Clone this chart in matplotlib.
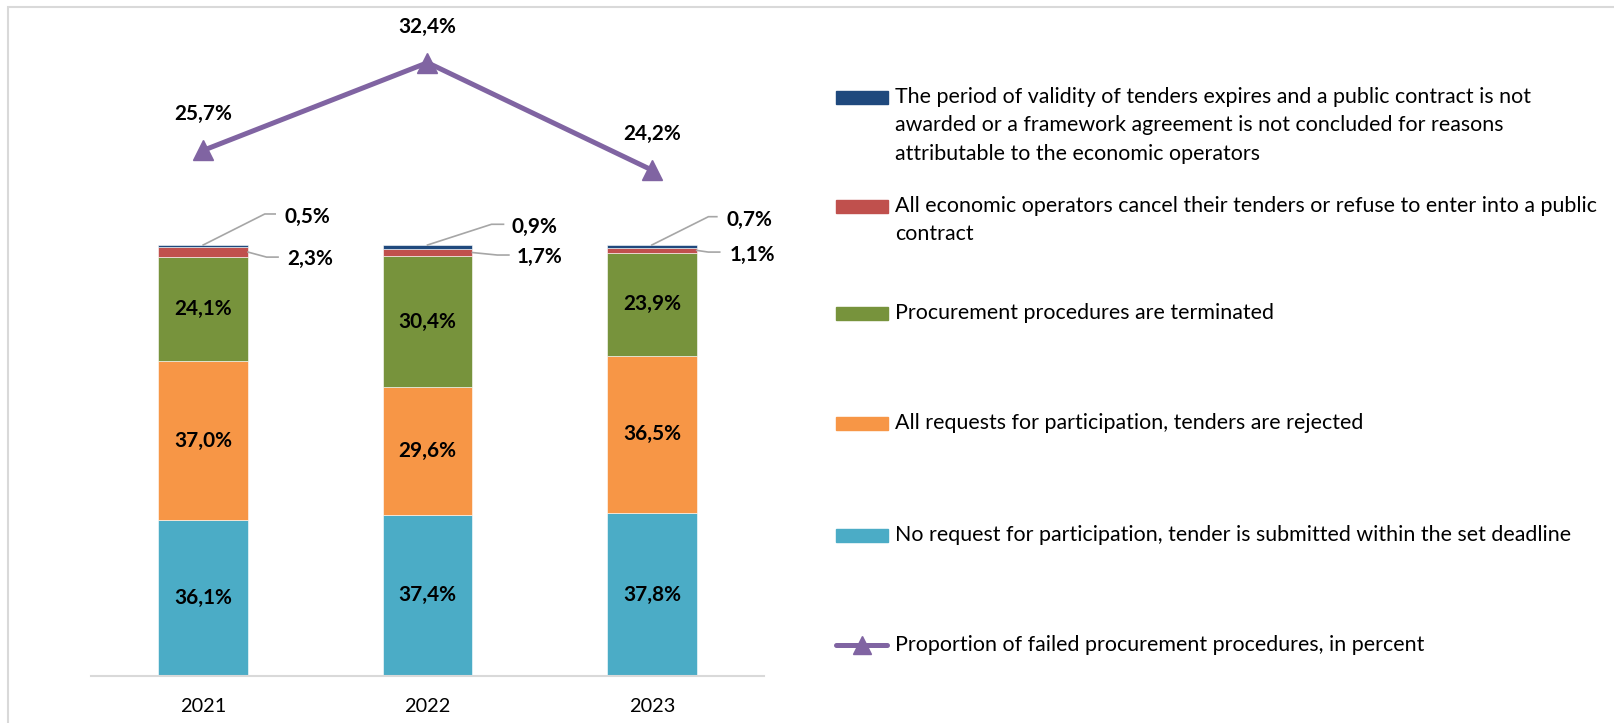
import matplotlib
matplotlib.use("Agg")
import matplotlib.pyplot as plt
from matplotlib.transforms import IdentityTransform
from matplotlib.patches import Rectangle
from matplotlib.lines import Line2D

# ---------------- data ----------------
years = ["2021", "2022", "2023"]
no_request = [36.1, 37.4, 37.8]
rejected = [37.0, 29.6, 36.5]
terminated = [24.1, 30.4, 23.9]
cancelled = [2.3, 1.7, 1.1]
expired = [0.5, 0.9, 0.7]
failed_share = [25.7, 32.4, 24.2]

legend_lines = [
    ["The period of validity of tenders expires and a public contract is not",
     "awarded or a framework agreement is not concluded for reasons",
     "attributable to the economic operators"],
    ["All economic operators cancel their tenders or refuse to enter into a public",
     "contract"],
    ["Procurement procedures are terminated"],
    ["All requests for participation, tenders are rejected"],
    ["No request for participation, tender is submitted within the set deadline"],
    ["Proportion of failed procurement procedures, in percent"],
]

# ---------------- style ----------------
C_BLUE = "#1F497D"
C_RED = "#C0504D"
C_GREEN = "#77933C"
C_ORANGE = "#F79646"
C_CYAN = "#4BACC6"
C_PURPLE = "#8064A2"
C_GRID = "#D9D9D9"
C_LEADER = "#A6A6A6"
FAMILY = ["Lato", "DejaVu Sans"]

W, H = 1615, 723
fig = plt.figure(figsize=(W / 100, H / 100), dpi=100)
renderer = fig.canvas.get_renderer()


def fit(text, target_w, weight="normal"):
    t = fig.text(0, 0, text, fontsize=20, fontweight=weight, family=FAMILY)
    w = t.get_window_extent(renderer).width
    t.remove()
    return 20 * target_w / w


fs_leg = fit(legend_lines[4][0], 674)
fs_lab = fit("25,7%", 58, "bold")
fs_tick = fit("2021", 46)


def pct(v):
    return f"{v:.1f}".replace(".", ",") + "%"


# axes: plot area from x=91..764, y=20..676 (image px)
ax = fig.add_axes([91 / W, (H - 676) / H, 673 / W, (676 - 20) / H])
ax.set_xlim(-0.5, 2.5)
ax.set_ylim(0, 152.2)
x = list(range(len(years)))
bw = 0.4

series = [(no_request, C_CYAN), (rejected, C_ORANGE), (terminated, C_GREEN),
          (cancelled, C_RED), (expired, C_BLUE)]
bottoms = [0.0] * len(years)
seg_bounds = []
for vals, col in series:
    ax.bar(x, vals, bw, bottom=bottoms, color=col, edgecolor="white",
           linewidth=0.4, zorder=2)
    seg_bounds.append((list(bottoms), list(vals)))
    bottoms = [b + v for b, v in zip(bottoms, vals)]

# labels inside the big segments
for k in range(3):
    bts, vals = seg_bounds[k]
    for i in x:
        ax.text(i, bts[i] + vals[i] / 2, pct(vals[i]), ha="center", va="center",
                fontsize=fs_lab, fontweight="bold", family=FAMILY, color="black",
                zorder=3)

for s in ["top", "left", "right"]:
    ax.spines[s].set_visible(False)
ax.spines["bottom"].set_color(C_GRID)
ax.spines["bottom"].set_linewidth(1.5)
ax.set_yticks([])
ax.set_xticks(x)
ax.set_xticklabels(years, family=FAMILY, fontsize=fs_tick)
for lbl in ax.get_xticklabels():
    lbl.set_va("center")
ax.tick_params(axis="x", length=0, pad=31 * 0.72)

# line on secondary axis
ax2 = ax.twinx()
ax2.set_ylim(-14.45, 35.66)
ax2.plot(x, failed_share, color=C_PURPLE, lw=3.6, marker="^", ms=14,
         solid_capstyle="round", zorder=4)
for i, v in zip(x, failed_share):
    ax2.annotate(pct(v), (i, v), xytext=(0, 36), textcoords="offset pixels",
                 ha="center", va="center", fontsize=fs_lab, fontweight="bold",
                 family=FAMILY)
for s in ax2.spines.values():
    s.set_visible(False)
ax2.set_yticks([])

# leader lines for small segments (offsets in image px: dx right, dy down)
blue_elbow = [(61.6, -31.0), (64.0, -20.7), (56.6, -28.3)]
blue_end = [72, 76, 65]
blue_lab = [(81, -28.3), (84.5, -18.3), (75, -25.0)]
red_elbow = [(18.5, 5.0), (25.0, 2.5), (11.6, 1.7)]
red_end = [30, 36.5, 23]
red_lab = [(39, 7.0), (44, 4.2), (33, 5.0)]


def leader(anchor_data, elbow, end_dx, lab, text):
    ax0, ay0 = ax.transData.transform(anchor_data)
    xs = [ax0, ax0 + elbow[0], ax0 + end_dx]
    ys = [ay0, ay0 - elbow[1], ay0 - elbow[1]]
    fig.add_artist(Line2D(xs, ys, color=C_LEADER, lw=1.2,
                          transform=IdentityTransform()))
    fig.text(ax0 + lab[0], ay0 - lab[1], text, transform=IdentityTransform(),
             ha="left", va="center", fontsize=fs_lab, fontweight="bold",
             family=FAMILY)


for i in x:
    top = bottoms[i]
    leader((i, top), blue_elbow[i], blue_end[i], blue_lab[i], pct(expired[i]))
    rb, rv = seg_bounds[3][0][i], seg_bounds[3][1][i]
    leader((i + bw / 2, rb + rv / 2), red_elbow[i], red_end[i], red_lab[i],
           pct(cancelled[i]))

# legend (manual, Excel style)
row_y = [97, 206, 313, 423, 535, 645]
row_col = [C_BLUE, C_RED, C_GREEN, C_ORANGE, C_CYAN]
for r, lines in enumerate(legend_lines):
    cy = row_y[r]
    if r < 5:
        fig.add_artist(Rectangle((836, H - cy - 6.5), 52, 13, color=row_col[r],
                                 transform=IdentityTransform()))
    else:
        fig.add_artist(Line2D([836, 887], [H - cy, H - cy], color=C_PURPLE,
                              lw=3.6, solid_capstyle="round",
                              transform=IdentityTransform()))
        fig.add_artist(Line2D([861.5], [H - cy], color=C_PURPLE, marker="^",
                              ms=13, lw=0, transform=IdentityTransform()))
    for j, t in enumerate(lines):
        fig.text(895, H - (cy + 28.3 * j), t, transform=IdentityTransform(),
                 ha="left", va="center", fontsize=fs_leg, family=FAMILY,
                 color="black")

# chart-area border
fig.add_artist(Rectangle((8, -30), W + 60, H - 7 + 30, fill=False,
                         edgecolor=C_GRID, lw=1.5, transform=IdentityTransform()))

fig.savefig("out.png", dpi=100)
